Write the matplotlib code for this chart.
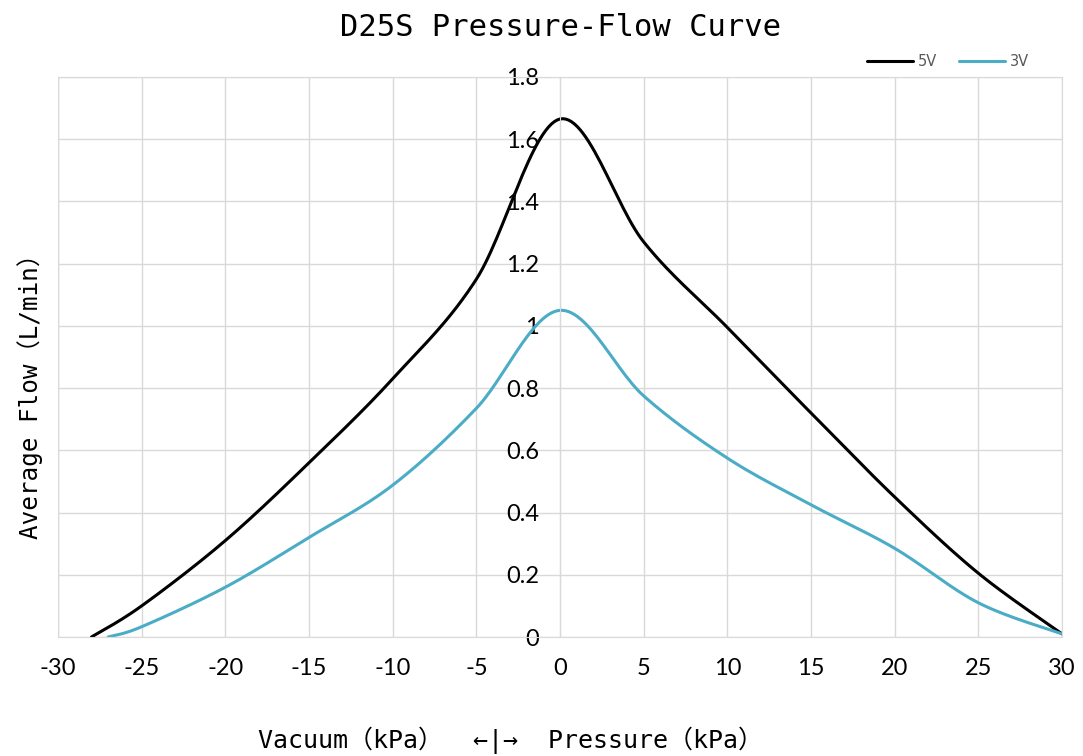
import numpy as np
import matplotlib
matplotlib.use("Agg")
import matplotlib.pyplot as plt

# pressure (kPa), negative = vacuum
x_5v = [-28, -25, -20, -15, -10, -5, 0, 5, 10, 15, 20, 25, 30]
flow_5v = [0, 0.10, 0.31, 0.56, 0.83, 1.15, 1.665, 1.27, 0.995, 0.72, 0.45, 0.205, 0.01]

x_3v = [-27, -25, -20, -15, -10, -5, 0, 5, 10, 15, 20, 25, 30]
flow_3v = [0, 0.033, 0.16, 0.32, 0.488, 0.735, 1.05, 0.775, 0.575, 0.425, 0.285, 0.11, 0.01]

x_ticks = [-30, -25, -20, -15, -10, -5, 0, 5, 10, 15, 20, 25, 30]
y_ticks = [0, 0.2, 0.4, 0.6, 0.8, 1, 1.2, 1.4, 1.6, 1.8]
y_labels = ["0", "0.2", "0.4", "0.6", "0.8", "1", "1.2", "1.4", "1.6", "1.8"]


def smooth(xs, ys, n=30):
    # Excel-style smoothed line: bezier through points, catmull-rom control points
    p = np.column_stack([xs, ys]).astype(float)
    p = np.vstack([p[0], p, p[-1]])
    out = []
    t = np.linspace(0, 1, n)[:, None]
    for i in range(1, len(p) - 2):
        p0, p1, p2, p3 = p[i - 1], p[i], p[i + 1], p[i + 2]
        c1 = p1 + (p2 - p0) / 6
        c2 = p2 - (p3 - p1) / 6
        seg = ((1 - t) ** 3) * p1 + 3 * ((1 - t) ** 2) * t * c1 + 3 * (1 - t) * t ** 2 * c2 + t ** 3 * p2
        out.append(seg if i == 1 else seg[1:])
    out = np.vstack(out)
    return out[:, 0], out[:, 1]


mono = ["DejaVu Sans Mono", "Noto Sans CJK SC"]
grid_col = "#d9d9d9"

fig = plt.figure(figsize=(10.83, 7.56), dpi=100)
ax = fig.add_axes([58 / 1083, 1 - 637 / 756, (1062 - 58) / 1083, (637 - 77) / 756])

sx, sy = smooth(x_5v, flow_5v)
ax.plot(sx, sy, color="black", lw=2.2, label="5V", solid_capstyle="round")
sx, sy = smooth(x_3v, flow_3v)
ax.plot(sx, sy, color="#4bacc6", lw=2.2, label="3V", solid_capstyle="round")

ax.set_xlim(-30, 30)
ax.set_ylim(0, 1.8)
ax.set_xticks(x_ticks)
ax.set_xticklabels([str(v) for v in x_ticks])
ax.set_yticks(y_ticks)
ax.set_yticklabels(y_labels)

ax.grid(True, color=grid_col, lw=1.0)
ax.set_axisbelow(True)
for s in ["top", "right", "bottom"]:
    ax.spines[s].set_color(grid_col)
ax.spines["left"].set_position(("data", 0))
ax.spines["left"].set_color(grid_col)
ax.axvline(-30, color=grid_col, lw=1.0, zorder=0)

ax.tick_params(axis="both", length=0, labelsize=17, colors="#000000")
ax.tick_params(axis="x", pad=15)
ax.tick_params(axis="y", pad=15)
for lab in ax.get_xticklabels() + ax.get_yticklabels():
    lab.set_family("Lato")

fig.text(560 / 1083, 1 - 27 / 756, "D25S Pressure-Flow Curve", family=mono,
         fontsize=22, ha="center", va="center")
fig.text(511 / 1083, 1 - 740 / 756, "Vacuum（kPa）  ←|→  Pressure（kPa）", family=mono,
         fontsize=18, ha="center", va="center")
fig.text(30 / 1083, 1 - 390 / 756, "Average Flow（L/min）", family=mono,
         fontsize=17.5, ha="center", va="center", rotation=90)

fig.legend(loc="center right", bbox_to_anchor=(1042 / 1083, 1 - 62 / 756), ncol=2,
           frameon=False, fontsize=10.5, labelcolor="#595959", handlelength=3.2,
           columnspacing=1.5, handletextpad=0.3)

fig.savefig("out.png", dpi=100)
